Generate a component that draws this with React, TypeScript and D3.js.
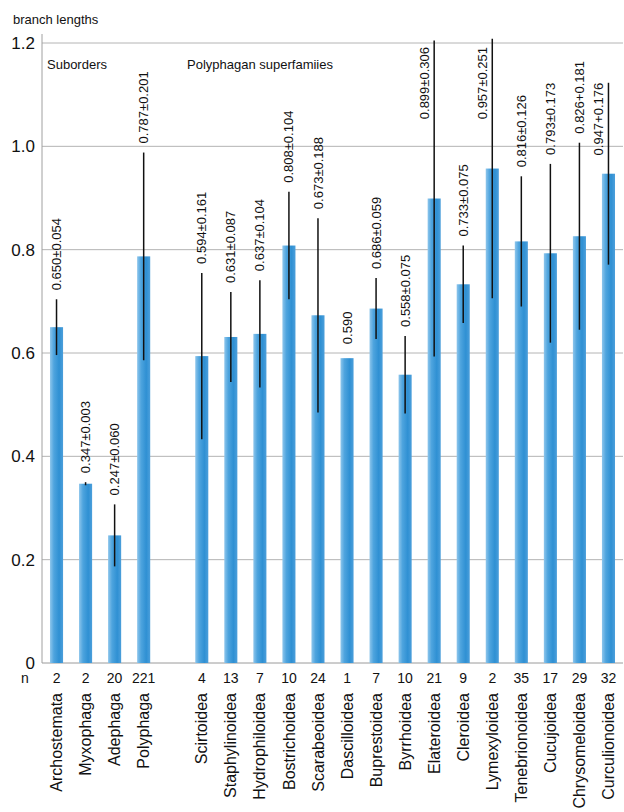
import React from "react";
import * as d3 from "d3";

const suborders = ["Archostemata", "Myxophaga", "Adephaga", "Polyphaga"];
const superfamilies = [
  "Scirtoidea", "Staphylinoidea", "Hydrophiloidea", "Bostrichoidea", "Scarabeoidea",
  "Dascilloidea", "Buprestoidea", "Byrrhoidea", "Elateroidea", "Cleroidea",
  "Lymexyloidea", "Tenebrionoidea", "Cucujoidea", "Chrysomeloidea", "Curculionoidea",
];
const categories = [...suborders, ...superfamilies];
const means = [
  0.650, 0.347, 0.247, 0.787,
  0.594, 0.631, 0.637, 0.808, 0.673, 0.590, 0.686, 0.558, 0.899, 0.733, 0.957, 0.816, 0.793, 0.826, 0.947,
];
const errors: (number | null)[] = [
  0.054, 0.003, 0.060, 0.201,
  0.161, 0.087, 0.104, 0.104, 0.188, null, 0.059, 0.075, 0.306, 0.075, 0.251, 0.126, 0.173, 0.181, 0.176,
];
const valueLabels = [
  "0.650±0.054", "0.347±0.003", "0.247±0.060", "0.787±0.201",
  "0.594±0.161", "0.631±0.087", "0.637±0.104", "0.808±0.104", "0.673±0.188", "0.590",
  "0.686±0.059", "0.558±0.075", "0.899±0.306", "0.733±0.075", "0.957±0.251",
  "0.816±0.126", "0.793±0.173", "0.826+0.181", "0.947+0.176",
];
const counts = [2, 2, 20, 221, 4, 13, 7, 10, 24, 1, 7, 10, 21, 9, 2, 35, 17, 29, 32];
const yTicks = [0, 0.2, 0.4, 0.6, 0.8, 1.0, 1.2];
const yTickLabels = ["0", "0.2", "0.4", "0.6", "0.8", "1.0", "1.2"];

const W = 624;
const H = 812;
const FONT = "'Liberation Sans', Arial, Helvetica, sans-serif";

export default function App() {
  const slots = [...suborders, "__gap__", ...superfamilies];
  const x = d3.scaleBand<string>().domain(slots).range([42, 623]).paddingInner(0.55).paddingOuter(0.275);
  const y = d3.scaleLinear().domain([0, 1.2]).range([663, 43]);
  const bw = x.bandwidth();
  const yTop = y(1.2);
  const gap = 9;

  return (
    <svg width={W} height={H} style={{ position: "absolute", left: 0, top: 0, background: "#fff" }} fontFamily={FONT}>
      <defs>
        <linearGradient id="barGrad" x1="0" x2="1" y1="0" y2="0">
          <stop offset="0%" stopColor="#8ec6ec" />
          <stop offset="30%" stopColor="#4ea4de" />
          <stop offset="70%" stopColor="#2f90d3" />
          <stop offset="100%" stopColor="#4c9fdb" />
        </linearGradient>
      </defs>
      <rect x={0} y={0} width={W} height={H} fill="#fff" />

      {/* gridlines */}
      {yTicks.map((t, i) => (
        <g key={"g" + i}>
          <line x1={42} x2={623} y1={y(t)} y2={y(t)} stroke={t === 0 ? "#9a9a9a" : "#b4b4b4"} strokeWidth={1} />
          <text x={35} y={y(t)} dy="0.36em" textAnchor="end" fontSize={17} fill="#111">
            {yTickLabels[i]}
          </text>
        </g>
      ))}
      <line x1={42} x2={42} y1={34} y2={663} stroke="#a0a0a0" strokeWidth={1} />

      <text x={13} y={24} fontSize={13} fill="#111">branch lengths</text>
      <text x={47} y={69} fontSize={13} fill="#111">Suborders</text>
      <text x={187} y={69} fontSize={13} fill="#111">Polyphagan superfamiies</text>

      {/* bars */}
      {categories.map((c, i) => (
        <rect key={"b" + c} x={x(c)!} y={y(means[i])} width={bw} height={y(0) - y(means[i])} fill="url(#barGrad)" />
      ))}

      {/* error bars */}
      {categories.map((c, i) => {
        const e = errors[i];
        if (e == null) return null;
        const cx = x(c)! + bw / 2;
        return (
          <line key={"e" + c} x1={cx} x2={cx} y1={y(means[i] - e)} y2={y(means[i] + e)} stroke="#111" strokeWidth={1.5} />
        );
      })}

      {/* value labels */}
      {categories.map((c, i) => {
        const e = errors[i] ?? 0;
        const cx = x(c)! + bw / 2;
        const topY = y(means[i] + e);
        const len = valueLabels[i].length * 6.6;
        const base = errors[i] == null ? y(means[i]) - 14 : topY - gap;
        if (base - len < yTop) {
          const ty = Math.max(topY, yTop + 4);
          return (
            <text key={"l" + c} transform={`translate(${cx - 10},${ty}) rotate(-90)`} dy="0.35em" textAnchor="end" fontSize={13} fill="#111">
              {valueLabels[i]}
            </text>
          );
        }
        return (
          <text key={"l" + c} transform={`translate(${cx},${base}) rotate(-90)`} dy="0.35em" textAnchor="start" fontSize={13} fill="#111">
            {valueLabels[i]}
          </text>
        );
      })}

      {/* n row */}
      <text x={25} y={683} textAnchor="middle" fontSize={14} fill="#111">n</text>
      {categories.map((c, i) => (
        <text key={"n" + c} x={x(c)! + bw / 2} y={683} textAnchor="middle" fontSize={14} fill="#111">
          {counts[i]}
        </text>
      ))}

      {/* category labels */}
      {categories.map((c) => (
        <text key={"c" + c} transform={`translate(${x(c)! + bw / 2},693) rotate(-90)`} dy="0.35em" textAnchor="end" fontSize={16} fill="#111">
          {c}
        </text>
      ))}
    </svg>
  );
}
